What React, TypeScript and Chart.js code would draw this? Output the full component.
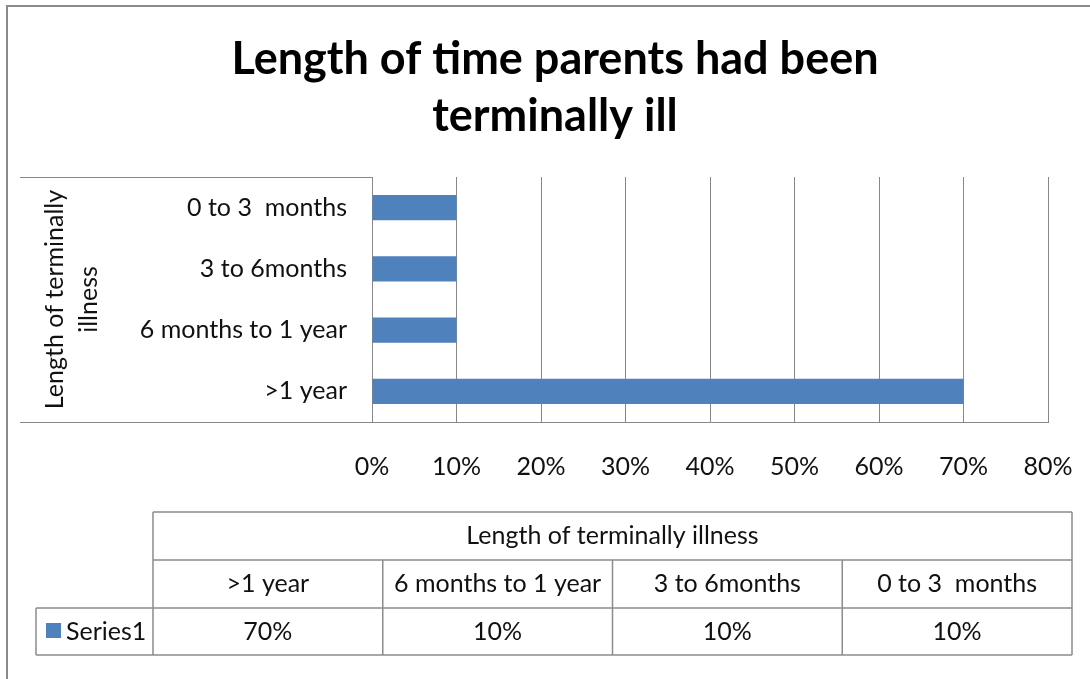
import React, { useEffect, useRef } from 'react';
import { Chart, registerables } from 'chart.js';

Chart.register(...registerables);

const categories = ['>1 year', '6 months to 1 year', '3 to 6months', '0 to 3  months'];
const seriesName = 'Series1';
const seriesValues = [70, 10, 10, 10];
const titleLines = ['Length of time parents had been', 'terminally ill'];
const axisTitleLines = ['Length of terminally', 'illness'];
const tableHeader = 'Length of terminally illness';
const xMin = 0;
const xMax = 80;
const xStep = 10;

const FONT = "Lato, 'Liberation Sans', sans-serif";
const TEXT = '#111111';
const GRID = '#878787';
const BAR = '#4F81BD';

const framePlugin = {
  id: 'frameAndTable',
  afterDraw(chart: any) {
    const ctx = chart.ctx as CanvasRenderingContext2D;
    const { left, top, bottom } = chart.chartArea;
    ctx.save();
    // outer frame
    ctx.strokeStyle = '#8a8a8a';
    ctx.lineWidth = 2;
    ctx.beginPath();
    ctx.moveTo(7, 700);
    ctx.lineTo(7, 6);
    ctx.lineTo(1100, 6);
    ctx.stroke();

    // lines around the category label area
    ctx.strokeStyle = GRID;
    ctx.lineWidth = 1;
    ctx.beginPath();
    ctx.moveTo(20, Math.round(top) + 0.5);
    ctx.lineTo(left, Math.round(top) + 0.5);
    ctx.moveTo(20, Math.round(bottom) + 0.5);
    ctx.lineTo(left, Math.round(bottom) + 0.5);
    ctx.stroke();

    // data table
    const labels: string[] = chart.data.labels;
    const values: number[] = chart.data.datasets[0].data;
    const n = labels.length;
    const tx0 = 153;
    const tx1 = 1072;
    const lx0 = 36;
    const r0 = 512;
    const r1 = 560;
    const r2 = 608;
    const r3 = 655;
    const colW = (tx1 - tx0) / n;

    ctx.strokeStyle = '#8c8c8c';
    ctx.lineWidth = 1.5;
    ctx.beginPath();
    ctx.moveTo(tx0, r0); ctx.lineTo(tx1, r0);
    ctx.moveTo(tx0, r1); ctx.lineTo(tx1, r1);
    ctx.moveTo(lx0, r2); ctx.lineTo(tx1, r2);
    ctx.moveTo(lx0, r3); ctx.lineTo(tx1, r3);
    ctx.moveTo(lx0, r2); ctx.lineTo(lx0, r3);
    ctx.moveTo(tx0, r0); ctx.lineTo(tx0, r3);
    ctx.moveTo(tx1, r0); ctx.lineTo(tx1, r3);
    for (let i = 1; i < n; i++) {
      const x = tx0 + colW * i;
      ctx.moveTo(x, r1); ctx.lineTo(x, r3);
    }
    ctx.stroke();

    ctx.fillStyle = TEXT;
    ctx.font = `25px ${FONT}`;
    ctx.textAlign = 'center';
    ctx.textBaseline = 'middle';
    ctx.fillText(tableHeader, (tx0 + tx1) / 2, (r0 + r1) / 2);
    for (let i = 0; i < n; i++) {
      const cx = tx0 + colW * (i + 0.5);
      ctx.fillText(labels[i], cx, (r1 + r2) / 2);
      ctx.fillText(`${values[i]}%`, cx, (r2 + r3) / 2);
    }
    // legend key
    ctx.fillStyle = chart.data.datasets[0].backgroundColor;
    ctx.fillRect(46, 623, 15, 15);
    ctx.fillStyle = TEXT;
    ctx.textAlign = 'left';
    ctx.fillText(chart.data.datasets[0].label, 66, (r2 + r3) / 2);
    ctx.restore();
  },
};

export default function App() {
  const ref = useRef<HTMLCanvasElement | null>(null);

  useEffect(() => {
    if (!ref.current) return;
    const chart = new Chart(ref.current, {
      type: 'bar',
      data: {
        labels: categories,
        datasets: [
          {
            label: seriesName,
            data: seriesValues,
            backgroundColor: BAR,
            borderWidth: 0,
            barPercentage: 0.41,
            categoryPercentage: 1,
          },
        ],
      },
      options: {
        indexAxis: 'y',
        responsive: false,
        animation: false,
        devicePixelRatio: 1,
        layout: { padding: { left: 20, right: 0, top: 0, bottom: 197 } },
        plugins: {
          legend: { display: false },
          tooltip: { enabled: false },
          title: {
            display: true,
            text: titleLines,
            color: '#000',
            font: { family: FONT, size: 45, weight: 'bold', lineHeight: 57 / 45 },
            padding: { top: 31, bottom: 32 },
          },
        },
        scales: {
          x: {
            min: xMin,
            max: xMax,
            ticks: {
              stepSize: xStep,
              callback: (v: any) => `${v}%`,
              color: TEXT,
              font: { family: FONT, size: 25 },
              padding: 30,
              maxRotation: 0,
            },
            grid: { color: GRID, lineWidth: 1, drawTicks: false },
            border: { display: true, color: GRID, width: 1 },
            afterFit: (s: any) => {
              s.height = 60;
              s.paddingRight = 42;
            },
          },
          y: {
            reverse: true,
            ticks: {
              color: TEXT,
              font: { family: FONT, size: 25 },
              padding: 25,
            },
            grid: { display: false, drawTicks: false },
            border: { display: true, color: GRID, width: 1 },
            title: {
              display: true,
              text: axisTitleLines,
              color: TEXT,
              font: { family: FONT, size: 25, lineHeight: 1.36 },
              padding: { top: 18, bottom: 0 },
            },
            afterFit: (s: any) => {
              s.width = 352;
            },
          },
        },
      },
      plugins: [framePlugin],
    } as any);
    return () => chart.destroy();
  }, []);

  return (
    <div style={{ position: 'absolute', left: 0, top: 0, width: 1090, height: 679, background: '#fff' }}>
      <canvas ref={ref} width={1090} height={679} style={{ display: 'block' }} />
    </div>
  );
}
